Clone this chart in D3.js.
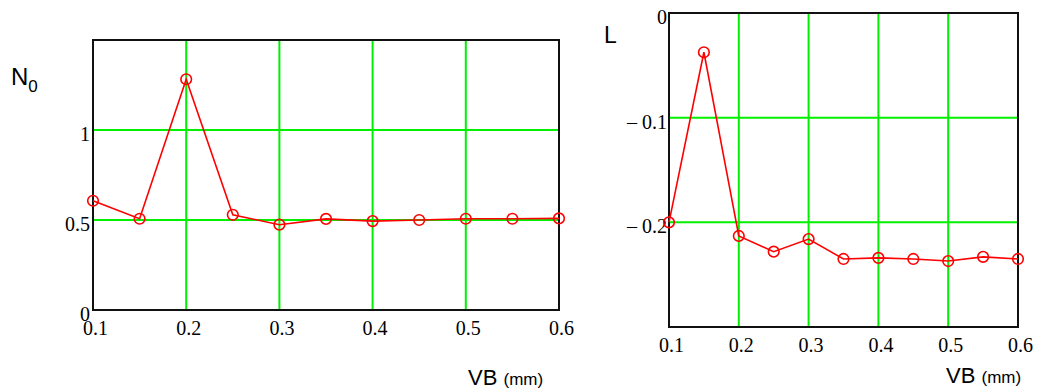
<!DOCTYPE html>
<html>
<head>
<meta charset="utf-8">
<script src="https://cdn.jsdelivr.net/npm/d3@7"></script>
<style>
  html, body { margin: 0; padding: 0; background: #fff; }
  svg { display: block; }
  .title { font-family: "Liberation Sans", Arial, sans-serif; fill: #000; }
</style>
</head>
<body>
<svg id="chart" width="1038" height="392"></svg>
<script>
// VB wear values (mm) shared by both panels
const vb = [0.1, 0.15, 0.2, 0.25, 0.3, 0.35, 0.4, 0.45, 0.5, 0.55, 0.6];
// Left panel: N0
const n0 = [0.607, 0.507, 1.282, 0.529, 0.474, 0.506, 0.494, 0.5, 0.507, 0.507, 0.509];
// Right panel: L
const lVals = [-0.2, -0.0375, -0.213, -0.228, -0.216, -0.235, -0.234, -0.235, -0.237, -0.233, -0.235];

const xTicks = [0.1, 0.2, 0.3, 0.4, 0.5, 0.6];
const xGrid = [0.2, 0.3, 0.4, 0.5];
const n0Ticks = [0, 0.5, 1];
const n0Grid = [0.5, 1];
const lTicks = [0, -0.1, -0.2];
const lGrid = [-0.1, -0.2];

const svg = d3.select("#chart");
const GREEN = "#00f000";
const RED = "#ff0000";
const SERIF = '"Liberation Serif", "Times New Roman", serif';

function styleTicks(sel) {
  sel.attr("font-family", SERIF).attr("font-size", 20);
  sel.selectAll(".tick text").attr("fill", "#000")
    .style("font-family", SERIF).style("font-size", "20px");
}

function panel(opts) {
  const x = d3.scaleLinear().domain([0.1, 0.6]).range([opts.left, opts.right]);
  const y = d3.scaleLinear().domain(opts.yDomain).range([opts.bottom, opts.top]);
  const g = svg.append("g");

  // grid lines
  g.append("g").selectAll("line").data(xGrid).join("line")
    .attr("x1", d => x(d)).attr("x2", d => x(d))
    .attr("y1", opts.top).attr("y2", opts.bottom)
    .attr("stroke", GREEN).attr("stroke-width", 2);
  g.append("g").selectAll("line").data(opts.yGrid).join("line")
    .attr("x1", opts.left).attr("x2", opts.right)
    .attr("y1", d => y(d)).attr("y2", d => y(d))
    .attr("stroke", GREEN).attr("stroke-width", 2);

  // x axis labels
  const xa = g.append("g").attr("transform", `translate(0,${opts.bottom})`)
    .call(d3.axisBottom(x).tickValues(xTicks).tickSize(0).tickPadding(opts.xPad).tickFormat(d3.format(".1f")));
  xa.select(".domain").remove();
  styleTicks(xa);
  xa.selectAll(".tick text").attr("dy", "0.71em").attr("dx", 2);

  // y axis labels
  const ya = g.append("g").attr("transform", `translate(${opts.left},0)`)
    .call(d3.axisLeft(y).tickValues(opts.yTicks).tickSize(0).tickPadding(opts.yPad).tickFormat(opts.yFmt));
  ya.select(".domain").remove();
  styleTicks(ya);
  ya.selectAll(".tick text").attr("dy", "0.52em");

  // frame
  g.append("rect")
    .attr("x", opts.left).attr("y", opts.top)
    .attr("width", opts.right - opts.left).attr("height", opts.bottom - opts.top)
    .attr("fill", "none").attr("stroke", "#111").attr("stroke-width", 2);

  // series
  const line = d3.line().x((d, i) => x(vb[i])).y(d => y(d));
  g.append("path").datum(opts.values)
    .attr("d", line).attr("fill", "none").attr("stroke", RED).attr("stroke-width", 1.6);
  g.append("g").selectAll("circle").data(opts.values).join("circle")
    .attr("cx", (d, i) => x(vb[i])).attr("cy", d => y(d)).attr("r", 5.3)
    .attr("fill", "none").attr("stroke", RED).attr("stroke-width", 1.6);

  // x title
  const t = g.append("text").attr("class", "title")
    .attr("x", opts.xTitleX).attr("y", opts.xTitleY);
  t.append("tspan").attr("font-size", 22).text("VB ");
  t.append("tspan").attr("font-size", 17).text("(mm)");
}

panel({
  left: 93, right: 559, top: 40, bottom: 310,
  yDomain: [0, 1.5], yTicks: n0Ticks, yGrid: n0Grid, yPad: 3, xPad: 11,
  yFmt: d => d === 0 ? "0" : d3.format("")(d),
  values: n0, xTitleX: 468, xTitleY: 385
});

panel({
  left: 669, right: 1018, top: 13, bottom: 327,
  yDomain: [-0.3, 0], yTicks: lTicks, yGrid: lGrid, yPad: 2, xPad: 11,
  yFmt: d => d === 0 ? "0" : "\u2013 " + d3.format("")(Math.abs(d)),
  values: lVals, xTitleX: 946, xTitleY: 383
});

// y titles
const n0t = svg.append("text").attr("class", "title").attr("x", 11).attr("y", 85).attr("font-size", 24);
n0t.append("tspan").text("N");
n0t.append("tspan").attr("font-size", 17).attr("dy", 7).text("0");

svg.append("text").attr("class", "title").attr("x", 604).attr("y", 43).attr("font-size", 23).text("L");
</script>
</body>
</html>
